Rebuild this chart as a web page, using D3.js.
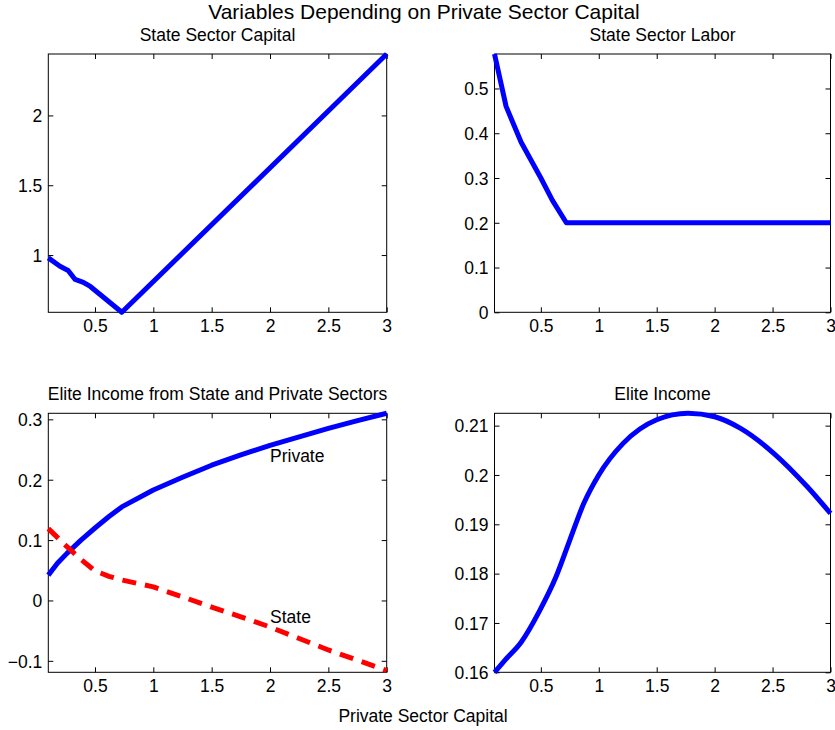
<!DOCTYPE html>
<html><head><meta charset="utf-8">
<script src="https://cdn.jsdelivr.net/npm/d3@7"></script>
<style>
body{margin:0;background:#fff;}
text{font-family:"Liberation Sans",Arial,Helvetica,sans-serif;fill:#000;}
</style></head>
<body><svg id="c" width="835" height="730"></svg>
<script>
// ---- data ----
const xTicks = [0.5, 1, 1.5, 2, 2.5, 3];
const xTickLabels = ["0.5", "1", "1.5", "2", "2.5", "3"];

const capX = [0.1, 0.2, 0.27, 0.33, 0.4, 0.46, 0.73, 3];
const stateCapital = [0.98, 0.92, 0.89, 0.825, 0.805, 0.775, 0.59, 2.44];
const capTicks = [1, 1.5, 2];
const capTickLabels = ["1", "1.5", "2"];

const laborX = [0.1, 0.2, 0.33, 0.4, 0.5, 0.6, 0.72, 3];
const stateLabor = [0.577, 0.46, 0.38, 0.347, 0.30, 0.25, 0.2, 0.2];
const laborTicks = [0, 0.1, 0.2, 0.3, 0.4, 0.5];
const laborTickLabels = ["0", "0.1", "0.2", "0.3", "0.4", "0.5"];

const sectX = [0.1, 0.18, 0.26, 0.38, 0.5, 0.62, 0.73, 1, 1.25, 1.5, 1.75, 2, 2.25, 2.5, 2.75, 3];
const privateIncome = [0.042, 0.062, 0.078, 0.100, 0.120, 0.139, 0.155, 0.183, 0.204, 0.224, 0.241, 0.257, 0.271, 0.285, 0.298, 0.31];
const stateIncome = [0.119, 0.104, 0.089, 0.068, 0.049, 0.040, 0.034, 0.0225, 0.006, -0.011, -0.027, -0.044, -0.063, -0.082, -0.099, -0.116];
const sectTicks = [-0.1, 0, 0.1, 0.2, 0.3];
const sectTickLabels = ["\u22120.1", "0", "0.1", "0.2", "0.3"];

const eliteX = [0.1, 0.2, 0.33, 0.49, 0.63, 0.75, 0.87, 1.0, 1.21, 1.5, 1.77, 2.0, 2.22, 2.51, 2.8, 3];
const eliteIncome = [0.16, 0.1627, 0.1661, 0.1725, 0.1793, 0.1868, 0.1942, 0.2, 0.2064, 0.2112, 0.2125, 0.2118, 0.2095, 0.2044, 0.1976, 0.1922];
const eliteTicks = [0.16, 0.17, 0.18, 0.19, 0.2, 0.21];
const eliteTickLabels = ["0.16", "0.17", "0.18", "0.19", "0.2", "0.21"];

// ---- drawing ----
const svg = d3.select("#c");
const FS = 17.5;

svg.append("text").attr("x", 424).attr("y", 18.5).attr("text-anchor", "middle")
  .style("font-size", "21px").text("Variables Depending on Private Sector Capital");
svg.append("text").attr("x", 423).attr("y", 722).attr("text-anchor", "middle")
  .style("font-size", FS + "px").text("Private Sector Capital");

function panel(box, yDomain, yTicks, yLabels, title) {
  const x = d3.scaleLinear().domain([0.1, 3]).range([box.l, box.r]);
  const y = d3.scaleLinear().domain(yDomain).range([box.b, box.t]);
  const g = svg.append("g");
  const tl = 5;
  const ax = [
    [d3.axisBottom(x), box.b, true],
    [d3.axisTop(x), box.t, false]
  ];
  ax.forEach(([a, dy, lab]) => {
    const gg = g.append("g").attr("transform", `translate(0,${dy})`)
      .call(a.tickValues(xTicks).tickSizeInner(-tl).tickSizeOuter(0)
        .tickFormat((d, i) => lab ? xTickLabels[i] : ""));
    gg.select(".domain").remove();
    gg.selectAll("line").attr("stroke", "#000");
    gg.selectAll("text").style("font-size", FS + "px").attr("font-family", null)
      .attr("y", 20).attr("dy", 0);
  });
  const ay = [
    [d3.axisLeft(y), box.l, true],
    [d3.axisRight(y), box.r, false]
  ];
  ay.forEach(([a, dx, lab]) => {
    const gg = g.append("g").attr("transform", `translate(${dx},0)`)
      .call(a.tickValues(yTicks).tickSizeInner(-tl).tickSizeOuter(0)
        .tickFormat((d, i) => lab ? yLabels[i] : ""));
    gg.select(".domain").remove();
    gg.selectAll("line").attr("stroke", "#000");
    gg.selectAll("text").style("font-size", FS + "px").attr("font-family", null)
      .attr("x", -6).attr("dy", "0.36em");
  });
  g.append("rect").attr("x", box.l).attr("y", box.t)
    .attr("width", box.r - box.l).attr("height", box.b - box.t)
    .attr("fill", "none").attr("stroke", "#000").attr("stroke-width", 1);
  svg.append("text").attr("x", (box.l + box.r) / 2).attr("y", box.t - 13.5)
    .attr("text-anchor", "middle").style("font-size", FS + "px").text(title);
  return {x, y, g};
}

function drawLine(p, xs, ys, color, dash, curve) {
  const line = d3.line().x((d, i) => p.x(xs[i])).y(d => p.y(d)).curve(curve || d3.curveLinear);
  p.g.append("path").datum(ys).attr("d", line).attr("fill", "none")
    .attr("stroke", color).attr("stroke-width", 5)
    .attr("stroke-linejoin", "round")
    .attr("stroke-dasharray", dash || null);
}

const TL = {l: 48.3, r: 386.7, t: 54, b: 312.3};
const TR = {l: 494.5, r: 830.5, t: 54, b: 312.3};
const BL = {l: 48.3, r: 386.7, t: 413.3, b: 672.3};
const BR = {l: 494.5, r: 830.5, t: 413.3, b: 672.3};

const p1 = panel(TL, [0.59, 2.44], capTicks, capTickLabels, "State Sector Capital");
drawLine(p1, capX, stateCapital, "#0000ff");

const p2 = panel(TR, [0, 0.577], laborTicks, laborTickLabels, "State Sector Labor");
drawLine(p2, laborX, stateLabor, "#0000ff");

const p3 = panel(BL, [-0.119, 0.31], sectTicks, sectTickLabels, "Elite Income from State and Private Sectors");
drawLine(p3, sectX, privateIncome, "#0000ff");
drawLine(p3, sectX, stateIncome, "#ff0000", "14,9");
p3.g.append("text").attr("x", p3.x(2)).attr("y", p3.y(0.2287)).style("font-size", FS + "px").text("Private");
p3.g.append("text").attr("x", p3.x(2)).attr("y", p3.y(-0.037)).style("font-size", FS + "px").text("State");

const p4 = panel(BR, [0.16, 0.2125], eliteTicks, eliteTickLabels, "Elite Income");
drawLine(p4, eliteX, eliteIncome, "#0000ff", null, d3.curveMonotoneX);
</script></body></html>
